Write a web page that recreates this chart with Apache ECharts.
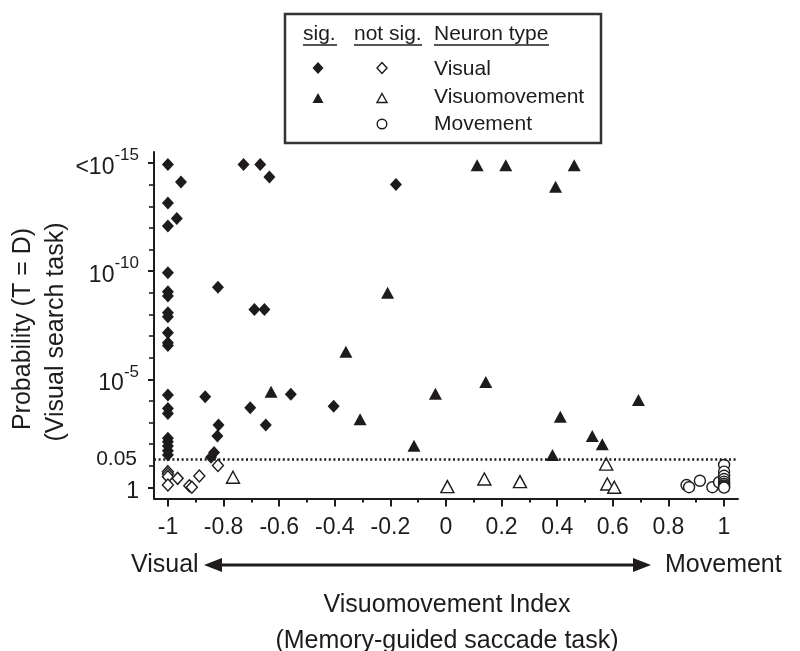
<!DOCTYPE html>
<html><head><meta charset="utf-8">
<script src="https://cdn.jsdelivr.net/npm/echarts@6/dist/echarts.min.js"></script>
<style>html,body{margin:0;padding:0;background:#fff}#c{width:800px;height:651px}</style>
</head><body><div id="c"></div>
<script>
// y values are -log10(p); x values are the Visuomovement Index
const sigVisual = [[-1,14.92],[-0.953,14.12],[-1,13.15],[-0.968,12.43],[-1,12.08],[-0.728,14.92],[-0.668,14.92],[-0.635,14.35],[-1,9.92],[-0.82,9.25],[-1,9.05],[-1,8.85],[-0.689,8.23],[-0.653,8.23],[-1,8.08],[-1,7.89],[-1,7.15],[-1,6.69],[-1,6.57],[-1,4.28],[-1,3.66],[-1,3.43],[-1,2.28],[-1,2.12],[-1,1.92],[-1,1.71],[-1,1.51],[-0.866,4.2],[-0.818,2.89],[-0.822,2.39],[-0.834,1.62],[-0.845,1.4],[-0.704,3.69],[-0.648,2.89],[-0.558,4.31],[-0.404,3.76],[-0.18,14.0]];
const notSigVisual = [[-1,0.74],[-1,0.63],[-1,0.51],[-1,0.12],[-0.965,0.43],[-0.923,0.09],[-0.914,0.02],[-0.887,0.54],[-0.82,1.02]];
const sigVisuomovement = [[-0.629,4.43],[-0.36,6.28],[-0.309,3.16],[-0.21,9.0],[-0.115,1.94],[-0.038,4.34],[0.112,14.89],[0.143,4.88],[0.215,14.89],[0.383,1.51],[0.394,13.89],[0.411,3.28],[0.461,14.89],[0.526,2.39],[0.562,2.0],[0.692,4.05]];
const notSigVisuomovement = [[-0.766,0.48],[0.005,0.05],[0.138,0.4],[0.266,0.28],[0.576,1.09],[0.58,0.17],[0.605,0.02]];
const notSigMovement = [[0.865,0.12],[0.874,0.02],[0.913,0.32],[0.958,0.02],[0.982,0.25],[1,1.05],[1,0.74],[1,0.55],[1,0.4],[1,0.28],[1,0.18],[1,0.1],[1,0.04],[1,0.0]];
const thresholdP = 0.05;
const yTickLabels = {0:'{n|1}',5:'{n|10}{s|-5}',10:'{n|10}{s|-10}',15:'{n|<10}{s|-15}'};
const legendHeaders = ['sig.','not sig.','Neuron type'];
const neuronTypes = ['Visual','Visuomovement','Movement'];

const FONT = "'Liberation Sans', Arial, sans-serif";
const INK = '#1e1b1c';
const chart = echarts.init(document.getElementById('c'), null, {renderer:'canvas'});

const filled = {color: INK, borderWidth: 0, opacity: 1};
const hollow = {color: '#fff', borderColor: INK, borderWidth: 1.4, opacity: 1};

function diamond(cx, cy, w, h, fill){
  return {type:'polygon', shape:{points:[[cx,cy-h],[cx+w,cy],[cx,cy+h],[cx-w,cy]]},
    style: fill ? {fill:INK} : {fill:'#fff', stroke:INK, lineWidth:1.4}};
}
function tri(cx, cy, w, h, fill){
  return {type:'polygon', shape:{points:[[cx,cy-h/2],[cx+w/2,cy+h/2],[cx-w/2,cy+h/2]]},
    style: fill ? {fill:INK} : {fill:'#fff', stroke:INK, lineWidth:1.4}};
}
function txt(x, y, s, size, align, extra){
  return Object.assign({type:'text', x:x, y:y, style:{text:s, fill:INK, font: size+'px '+FONT, textAlign:align||'left', textVerticalAlign:'middle'}}, extra||{});
}
function uline(x1, x2, y){
  return {type:'line', shape:{x1:x1,y1:y,x2:x2,y2:y}, style:{stroke:INK, lineWidth:1.5}};
}

const graphic = [
  {type:'rect', shape:{x:285, y:14, width:316, height:129}, style:{fill:'#fff', stroke:'#333', lineWidth:2.5}},
  txt(303, 34, legendHeaders[0], 21),
  txt(354, 34, legendHeaders[1], 21),
  txt(434, 34, legendHeaders[2], 21),
  uline(303, 337, 45), uline(354, 422, 45), uline(434, 549, 45),
  diamond(318, 68, 5.5, 6, true), diamond(382, 68, 5, 5.5, false),
  tri(318, 98, 11, 10, true), tri(382, 98, 10, 9, false),
  {type:'circle', shape:{cx:382, cy:124, r:4.8}, style:{fill:'#fff', stroke:INK, lineWidth:1.4}},
  txt(434, 69, neuronTypes[0], 21),
  txt(434, 97, neuronTypes[1], 21),
  txt(434, 124, neuronTypes[2], 21),
  // x-axis annotations
  txt(131, 565, 'Visual', 25),
  txt(665, 565, 'Movement', 25),
  {type:'line', shape:{x1:215, y1:565, x2:640, y2:565}, style:{stroke:INK, lineWidth:3}},
  {type:'polygon', shape:{points:[[204,565],[222,558],[222,572]]}, style:{fill:INK}},
  {type:'polygon', shape:{points:[[651,565],[633,558],[633,572]]}, style:{fill:INK}},
  txt(447, 605, 'Visuomovement Index', 25, 'center'),
  txt(447, 641, '(Memory-guided saccade task)', 25, 'center'),
  // y-axis title
  txt(23, 329, 'Probability (T = D)', 25, 'center', {rotation: Math.PI/2}),
  txt(56, 332, '(Visual search task)', 25, 'center', {rotation: Math.PI/2})
];

function scatter(name, data, symbol, size, style){
  return {name:name, type:'scatter', xAxisIndex:0, yAxisIndex:0, data:data, symbol:symbol, symbolSize:size,
    itemStyle:style, emphasis:{disabled:true}, animation:false};
}

const option = {
  animation: false,
  backgroundColor: '#fff',
  grid: [
    {left:154, right:62, top:152, bottom:152.5},
    {left:168, right:76, top:163, bottom:163.5}
  ],
  xAxis: [
    {gridIndex:0, type:'value', min:-1.05, max:1.05, axisLine:{onZero:false, lineStyle:{color:INK, width:2}},
     axisTick:{show:false}, axisLabel:{show:false}, splitLine:{show:false}},
    {gridIndex:1, type:'value', min:-1, max:1, interval:0.2, offset:11,
     axisLine:{show:false, onZero:false}, splitLine:{show:false},
     axisTick:{show:true, length:8, lineStyle:{color:INK, width:2}},
     minorTick:{show:true, splitNumber:2, length:4, lineStyle:{color:INK, width:2}},
     axisLabel:{margin:18, fontSize:23, fontFamily:FONT, color:INK,
       formatter: v => String(Math.round(v*10)/10)}}
  ],
  yAxis: [
    {gridIndex:0, type:'value', min:-0.5, max:15.5, axisLine:{show:true, onZero:false, lineStyle:{color:INK, width:2}},
     axisTick:{show:false}, axisLabel:{show:false}, splitLine:{show:false}},
    {gridIndex:1, type:'value', min:0, max:15, interval:5, offset:14,
     axisLine:{show:false, onZero:false}, splitLine:{show:false},
     axisTick:{show:true, length:6, lineStyle:{color:INK, width:2}},
     minorTick:{show:true, splitNumber:5, length:5, lineStyle:{color:INK, width:1.6}},
     axisLabel:{margin:15, fontFamily:FONT, color:INK,
       formatter: v => yTickLabels[Math.round(v)] || '',
       rich:{
         n:{fontSize:23, fontFamily:FONT, color:INK, lineHeight:32, verticalAlign:'bottom'},
         s:{fontSize:17, fontFamily:FONT, color:INK, lineHeight:17, verticalAlign:'top'}
       }}}
  ],
  series: [
    Object.assign(scatter('threshold', [], 'none', 0, filled), {
      markLine:{silent:true, symbol:'none', animation:false,
        lineStyle:{color:INK, width:2.5, type:[2,2.6]},
        label:{show:true, position:'start', distance:17, formatter:String(thresholdP), fontSize:21, fontFamily:FONT, color:INK},
        data:[{yAxis: -Math.log10(thresholdP)}]}
    }),
    scatter('Visual not sig.', notSigVisual, 'diamond', [11,12], hollow),
    scatter('Visuomovement not sig.', notSigVisuomovement, 'triangle', [13,12], hollow),
    scatter('Movement not sig.', notSigMovement, 'circle', 11, hollow),
    scatter('Visual sig.', sigVisual, 'diamond', [12,13], filled),
    scatter('Visuomovement sig.', sigVisuomovement, 'triangle', [13,12], filled)
  ],
  graphic: graphic
};
chart.setOption(option);
</script>
</body></html>
